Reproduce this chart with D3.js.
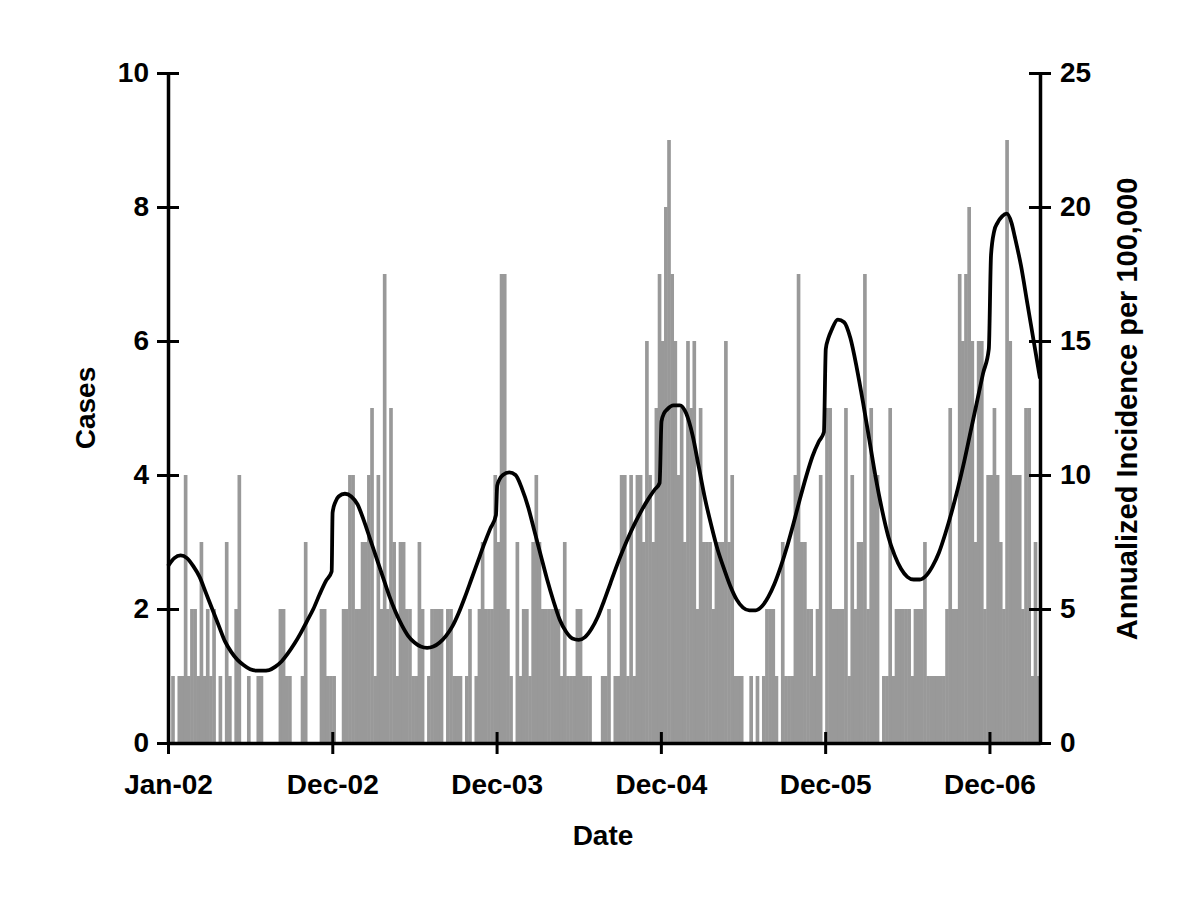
<!DOCTYPE html>
<html><head><meta charset="utf-8">
<script src="https://cdn.jsdelivr.net/npm/d3@7"></script>
<style>body{margin:0;background:#fff}</style>
</head><body>
<svg id="c" width="1200" height="900"></svg>
<script>
// weekly case counts, Jan-02 onwards (276 weeks)
const cases = [
 0,1,0,1,1,4,1,2,2,1,3,1,2,1,2,0,1,0,3,1,0,2,4,0,0,1,
 0,0,1,1,0,0,0,0,0,2,2,1,1,0,0,0,1,3,0,0,0,0,2,2,1,1,
 1,0,0,
 2,2,4,4,2,2,3,3,4,5,1,4,2,7,2,5,3,1,3,3,2,2,1,1,3,2,0,1,
 2,2,2,2,0,2,2,1,1,1,0,1,2,0,1,2,3,2,2,2,4,3,7,7,2,1,0,3,
 1,2,2,1,3,4,3,2,2,2,2,2,2,1,3,1,1,1,2,2,1,1,1,0,0,0,1,
 1,2,0,1,1,4,4,1,4,1,4,4,3,6,4,3,5,7,6,8,9,7,6,4,5,3,6,5,
 6,2,5,3,3,3,2,3,3,3,6,3,4,1,1,1,0,0,1,0,1,0,1,2,2,2,1,0,
 3,1,1,1,4,7,3,3,2,2,1,2,4,0,5,5,2,2,2,2,5,1,4,2,3,3,7,2,
 5,4,4,0,1,1,5,1,2,2,2,2,2,1,2,2,2,3,1,1,1,1,1,1,2,5,2,
 2,7,6,7,8,6,3,6,6,2,4,4,5,4,3,2,9,6,4,4,4,2,5,5,1,3,1
];
// annualized incidence per 100,000 (smoothed line), read at these weeks
const curveWeeks = [
 0,2,4,6,8,10,12,14,16,18,20,22,24,26,28,30,32,34,36,38,40,42,44,46,48,50,51.8,
 52.1,53,54,56,58,60,62,64,66,68,70,72,74,76,78,80,82,84,86,88,90,92,94,96,98,100,102,103.8,
 104.2,105,106,108,110,112,114,116,118,120,122,124,126,128,130,132,134,136,138,140,142,144,146,148,150,152,154,155.6,
 156.2,157,158,160,162,164,166,168,170,172,174,176,178,180,182,184,186,188,190,192,194,196,198,200,202,204,206,207.6,
 208.2,209,210,212,214,216,218,220,222,224,226,228,230,232,234,236,238,240,242,244,246,248,250,252,254,256,258,259.8,
 260.5,261.5,262.5,264,265.5,267,268,270,272,274,276
];
const curveValues = [
 6.6,6.9,7.0,6.9,6.6,6.2,5.6,5.0,4.4,3.8,3.4,3.1,2.9,2.75,2.7,2.7,2.72,2.85,3.05,3.35,3.7,4.1,4.55,5.0,5.55,6.05,6.4,
 8.6,9.0,9.2,9.3,9.2,8.9,8.3,7.6,6.9,6.2,5.5,4.9,4.4,4.0,3.75,3.6,3.55,3.6,3.75,4.0,4.35,4.85,5.45,6.1,6.75,7.4,8.0,8.5,
 9.6,9.85,10.0,10.1,10.0,9.5,8.8,7.9,7.0,6.1,5.3,4.6,4.15,3.9,3.85,3.95,4.25,4.7,5.3,5.95,6.6,7.2,7.75,8.25,8.7,9.1,9.45,9.7,
 12.0,12.3,12.45,12.6,12.6,12.3,11.5,10.3,9.1,8.1,7.2,6.5,5.85,5.35,5.05,4.95,4.95,5.1,5.45,5.95,6.6,7.35,8.2,9.1,9.95,10.7,11.25,11.6,
 14.7,15.1,15.4,15.8,15.7,15.1,14.0,12.7,11.3,9.9,8.7,7.7,7.0,6.5,6.2,6.1,6.1,6.25,6.6,7.1,7.8,8.6,9.5,10.5,11.6,12.7,13.8,14.7,
 18.2,19.1,19.4,19.65,19.75,19.4,18.9,17.8,16.4,15.0,13.6
];
const xTickWeeks = [0,52,104,156,208,260];
const xTickLabels = ["Jan-02","Dec-02","Dec-03","Dec-04","Dec-05","Dec-06"];
const leftTicks = [0,2,4,6,8,10];
const rightTicks = [0,5,10,15,20,25];

const svg = d3.select("#c");
const L = 168, R = 1040, T = 73, B = 743;
const FONT = "'Liberation Sans', Arial, sans-serif";
const FS = 28;

const xBand = d3.scaleBand().domain(d3.range(cases.length)).range([L, R]).padding(0);
const xLin = d3.scaleLinear().domain([0, cases.length]).range([L, R]);
const yL = d3.scaleLinear().domain([0, 10]).range([B, T]);
const yR = d3.scaleLinear().domain([0, 25]).range([B, T]);

// bars (slight overlap so adjacent bars merge like the reference)
svg.append("g").selectAll("rect").data(cases).join("rect")
  .attr("x", (d, i) => xBand(i))
  .attr("width", xBand.bandwidth() + 0.5)
  .attr("y", d => yL(d))
  .attr("height", d => B - yL(d))
  .attr("fill", "#999999");

// line
const line = d3.line().x(d => xLin(d[0])).y(d => yR(d[1])).curve(d3.curveMonotoneX);
svg.append("path")
  .datum(curveWeeks.map((w, i) => [w, curveValues[i]]))
  .attr("d", line)
  .attr("fill", "none").attr("stroke", "#000").attr("stroke-width", 3.8)
  .attr("stroke-linejoin", "round");

function styleAxis(g) {
  g.select(".domain").attr("stroke", "#000").attr("stroke-width", 3.5);
  g.selectAll(".tick line").attr("stroke", "#000").attr("stroke-width", 3);
  g.selectAll(".tick text").attr("font-family", FONT).attr("font-weight", "bold")
    .attr("font-size", FS).attr("fill", "#000");
}

// left axis
svg.append("g").attr("transform", `translate(${L},0)`)
  .call(d3.axisLeft(yL).tickValues(leftTicks).tickSize(11).tickSizeOuter(0).tickPadding(8))
  .call(g => g.selectAll(".tick line").attr("x1", 11))
  .call(styleAxis);

// right axis
svg.append("g").attr("transform", `translate(${R},0)`)
  .call(d3.axisRight(yR).tickValues(rightTicks).tickSize(11).tickSizeOuter(0).tickPadding(9))
  .call(g => g.selectAll(".tick line").attr("x1", -11))
  .call(styleAxis);

// bottom axis
svg.append("g").attr("transform", `translate(0,${B})`)
  .call(d3.axisBottom(xLin).tickValues(xTickWeeks).tickFormat((d, i) => xTickLabels[i])
    .tickSize(11).tickSizeOuter(0).tickPadding(20))
  .call(g => g.selectAll(".tick line").attr("y1", -11))
  .call(styleAxis);

// titles
svg.append("text").attr("x", 603).attr("y", 845).attr("text-anchor", "middle")
  .attr("font-family", FONT).attr("font-weight", "bold").attr("font-size", FS).text("Date");
svg.append("text").attr("transform", "translate(95,408) rotate(-90)").attr("text-anchor", "middle")
  .attr("font-family", FONT).attr("font-weight", "bold").attr("font-size", FS).text("Cases");
svg.append("text").attr("transform", "translate(1137,409) rotate(-90)").attr("text-anchor", "middle")
  .attr("font-family", FONT).attr("font-weight", "bold").attr("font-size", 29).text("Annualized Incidence per 100,000");
</script>
</body></html>
